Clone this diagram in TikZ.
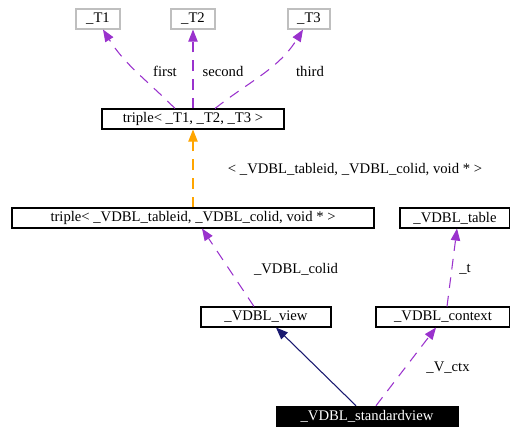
\documentclass[tikz,border=0pt]{standalone}
\usepackage{fontspec}
\setmainfont{Liberation Serif}
\usetikzlibrary{arrows.meta}
\definecolor{edgepurple}{RGB}{154,50,205}
\definecolor{edgeorange}{RGB}{255,165,0}
\definecolor{edgenavy}{RGB}{25,25,112}
\definecolor{boxgray}{RGB}{191,191,191}
\begin{document}
\begin{tikzpicture}[x=0.75pt,y=-0.75pt,
  every node/.style={font=\fontsize{11}{13}\selectfont},
  cls/.style={draw=black, line width=0.8pt, fill=white, minimum height=15pt, inner sep=0pt},
  gcls/.style={draw=boxgray, line width=0.8pt, fill=white, minimum height=15pt, inner sep=0pt},
  focus/.style={draw=black, fill=black, text=white, minimum height=15pt, inner sep=0pt},
  lbl/.style={inner sep=0pt},
  tip/.style={-{Triangle[length=9pt,width=7pt]}},
  usedash/.style={tip, edgepurple, line width=0.8pt, dash pattern=on 8pt off 6pt},
  tmpl/.style={tip, edgeorange, line width=0.8pt, dash pattern=on 8pt off 6pt},
  inh/.style={tip, edgenavy, line width=0.8pt}]
\useasboundingbox (0,0) rectangle (510,426);
% nodes
\node[gcls, minimum width=33pt] (t1) at (98,19) {\_T1};
\node[gcls, minimum width=33pt] (t2) at (193,19) {\_T2};
\node[gcls, minimum width=31.5pt] (t3) at (309,19) {\_T3};
\node[cls, minimum width=136.5pt] (tt) at (193,119) {triple< \_T1, \_T2, \_T3 >};
\node[cls, minimum width=271.5pt] (tv) at (193,218) {triple< \_VDBL\_tableid, \_VDBL\_colid, void * >};
\node[cls, minimum width=82.5pt] (tab) at (455,218) {\_VDBL\_table};
\node[cls, minimum width=97.5pt] (view) at (266,317) {\_VDBL\_view};
\node[cls, minimum width=100.5pt] (ctx) at (443,317) {\_VDBL\_context};
\node[focus, minimum width=136.5pt] (sv) at (367,416) {\_VDBL\_standardview};
% labels
\node[lbl] (lfirst) at (165,71) {first};
\node[lbl] (lsecond) at (223,71) {second};
\node[lbl] (lthird) at (310,71) {third};
\node[lbl] (ltmpl) at (355,170) {< \_VDBL\_tableid, \_VDBL\_colid, void * >};
\node[lbl] (lcolid) at (296,269) {\_VDBL\_colid};
\node[lbl] (lt) at (465,269) {\_t};
\node[lbl] (lctx) at (448,368) {\_V\_ctx};
% edges
\draw[usedash] ([xshift=-13.5pt]tt.north) to[out=135,in=-58] ([xshift=3.75pt]t1.south);
\draw[usedash] (tt.north) -- (t2.south);
\draw[usedash] ([xshift=16.5pt]tt.north) to[out=38,in=-122] ([xshift=-4.5pt]t3.south);
\draw[tmpl] (tv.north) -- (tt.south);
\draw[usedash] ([xshift=-9pt]view.north) -- ([xshift=6.75pt]tv.south);
\draw[usedash] ([xshift=3pt]ctx.north) -- ([xshift=1.5pt]tab.south);
\draw[inh] ([xshift=-8.25pt]sv.north) -- ([xshift=7.5pt]view.south);
\draw[usedash] ([xshift=6.75pt]sv.north) -- ([xshift=-5.25pt]ctx.south);
\end{tikzpicture}
\end{document}
